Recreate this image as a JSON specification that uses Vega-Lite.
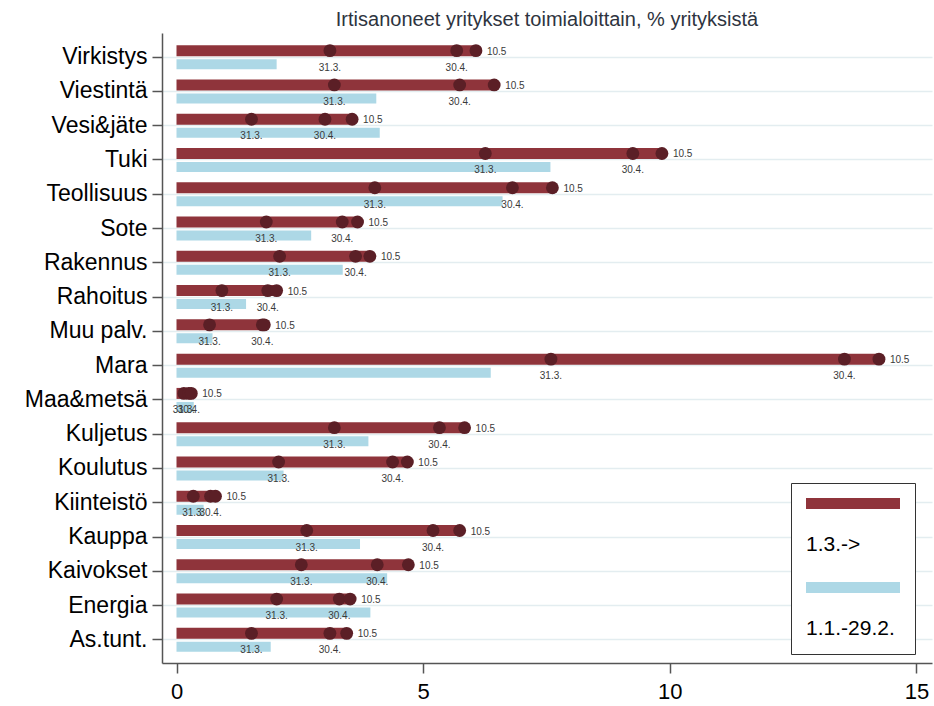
{
  "$schema": "https://vega.github.io/schema/vega-lite/v6.json",
  "width": 770,
  "height": 630,
  "autosize": {"type": "none"},
  "padding": {"left": 162, "top": 33, "right": 2, "bottom": 43},
  "title": {
    "text": "Irtisanoneet yritykset toimialoittain, % yrityksistä",
    "font": "Liberation Sans",
    "fontSize": 20,
    "fontWeight": "normal",
    "color": "#2e3440",
    "anchor": "middle",
    "offset": 3
  },
  "data": {
    "values": [
      {"ala": "Virkistys", "ennen": 2.03, "m31": 3.11, "a30": 5.68, "t10": 6.07},
      {"ala": "Viestintä", "ennen": 4.05, "m31": 3.2, "a30": 5.74, "t10": 6.44},
      {"ala": "Vesi&jäte", "ennen": 4.12, "m31": 1.52, "a30": 3.01, "t10": 3.56},
      {"ala": "Tuki", "ennen": 7.58, "m31": 6.26, "a30": 9.25, "t10": 9.84},
      {"ala": "Teollisuus", "ennen": 6.61, "m31": 4.02, "a30": 6.81, "t10": 7.62},
      {"ala": "Sote", "ennen": 2.73, "m31": 1.82, "a30": 3.36, "t10": 3.67},
      {"ala": "Rakennus", "ennen": 3.37, "m31": 2.09, "a30": 3.63, "t10": 3.92},
      {"ala": "Rahoitus", "ennen": 1.41, "m31": 0.92, "a30": 1.85, "t10": 2.03},
      {"ala": "Muu palv.", "ennen": 0.73, "m31": 0.67, "a30": 1.74, "t10": 1.78},
      {"ala": "Mara", "ennen": 6.37, "m31": 7.59, "a30": 13.54, "t10": 14.24},
      {"ala": "Maa&metsä", "ennen": 0.35, "m31": 0.15, "a30": 0.25, "t10": 0.3},
      {"ala": "Kuljetus", "ennen": 3.89, "m31": 3.2, "a30": 5.33, "t10": 5.84},
      {"ala": "Koulutus", "ennen": 2.17, "m31": 2.07, "a30": 4.38, "t10": 4.68},
      {"ala": "Kiinteistö", "ennen": 0.55, "m31": 0.34, "a30": 0.69, "t10": 0.79},
      {"ala": "Kauppa", "ennen": 3.72, "m31": 2.64, "a30": 5.2, "t10": 5.74},
      {"ala": "Kaivokset", "ennen": 4.27, "m31": 2.53, "a30": 4.07, "t10": 4.7},
      {"ala": "Energia", "ennen": 3.93, "m31": 2.03, "a30": 3.3, "t10": 3.52},
      {"ala": "As.tunt.", "ennen": 1.91, "m31": 1.52, "a30": 3.11, "t10": 3.45}
    ]
  },
  "encoding": {
    "y": {
      "field": "ala",
      "type": "nominal",
      "sort": ["Virkistys", "Viestintä", "Vesi&jäte", "Tuki", "Teollisuus", "Sote", "Rakennus", "Rahoitus", "Muu palv.", "Mara", "Maa&metsä", "Kuljetus", "Koulutus", "Kiinteistö", "Kauppa", "Kaivokset", "Energia", "As.tunt."],
      "scale": {"type": "point", "padding": 0.69},
      "title": null,
      "axis": {
        "domain": true,
        "domainColor": "#555555",
        "domainWidth": 1.5,
        "ticks": true,
        "tickColor": "#555555",
        "tickWidth": 1.5,
        "tickSize": 10,
        "labelFont": "Liberation Sans",
        "labelFontSize": 23,
        "labelColor": "#000000",
        "labelPadding": 5,
        "labelLimit": 200,
        "grid": true,
        "gridColor": "#e3edf0",
        "gridWidth": 1.5
      }
    }
  },
  "layer": [
    {
      "mark": {"type": "bar", "size": 10, "yOffset": 7.5},
      "encoding": {
        "x": {
          "field": "ennen",
          "type": "quantitative",
          "scale": {"domain": [-0.294, 15.315], "nice": false, "zero": false},
          "title": null,
          "axis": {
            "values": [0, 5, 10, 15],
            "grid": false,
            "domainColor": "#555555",
            "domainWidth": 1.5,
            "tickColor": "#555555",
            "tickWidth": 1.5,
            "tickSize": 10,
            "labelFont": "Liberation Sans",
            "labelFontSize": 22,
            "labelColor": "#000000",
            "labelPadding": 8
          }
        },
        "x2": {"datum": 0},
        "color": {
          "datum": "1.1.-29.2.",
          "type": "nominal",
          "scale": {"domain": ["1.3.->", "1.1.-29.2."], "range": ["#8f343b", "#add8e6"]},
          "legend": {
            "title": null,
            "orient": "none",
            "legendX": 629,
            "legendY": 450,
            "symbolType": "M-1,-1H1V-0.766H-1Z",
            "symbolSize": 8836,
            "symbolStrokeWidth": 0,
            "symbolOpacity": 1,
            "labelOffset": -94,
            "labelFont": "Liberation Sans",
            "labelFontSize": 21,
            "labelColor": "#000000",
            "labelLimit": 200,
            "rowPadding": 27,
            "padding": 15,
            "strokeColor": "#333333",
            "fillColor": "#ffffff"
          }
        }
      }
    },
    {
      "mark": {"type": "bar", "size": 11, "yOffset": -6},
      "encoding": {
        "x": {"field": "t10", "type": "quantitative"},
        "x2": {"datum": 0},
        "color": {"datum": "1.3.->", "type": "nominal"}
      }
    },
    {
      "transform": [{"fold": ["m31", "a30", "t10"], "as": ["pvm", "arvo"]}],
      "mark": {"type": "circle", "size": 165, "opacity": 1, "yOffset": -6, "color": "#5b1f26"},
      "encoding": {
        "x": {"field": "arvo", "type": "quantitative"}
      }
    },
    {
      "mark": {"type": "text", "fontSize": 10, "font": "Liberation Sans", "color": "#3a3a3a", "yOffset": 11, "baseline": "middle", "align": "center"},
      "encoding": {
        "x": {"field": "m31", "type": "quantitative"},
        "text": {"value": "31.3."}
      }
    },
    {
      "mark": {"type": "text", "fontSize": 10, "font": "Liberation Sans", "color": "#3a3a3a", "yOffset": 11, "baseline": "middle", "align": "center"},
      "encoding": {
        "x": {"field": "a30", "type": "quantitative"},
        "text": {"value": "30.4."}
      }
    },
    {
      "mark": {"type": "text", "fontSize": 10, "font": "Liberation Sans", "color": "#3a3a3a", "yOffset": -5, "dx": 11, "baseline": "middle", "align": "left"},
      "encoding": {
        "x": {"field": "t10", "type": "quantitative"},
        "text": {"value": "10.5"}
      }
    }
  ],
  "config": {
    "view": {"stroke": null},
    "background": "#ffffff"
  }
}
